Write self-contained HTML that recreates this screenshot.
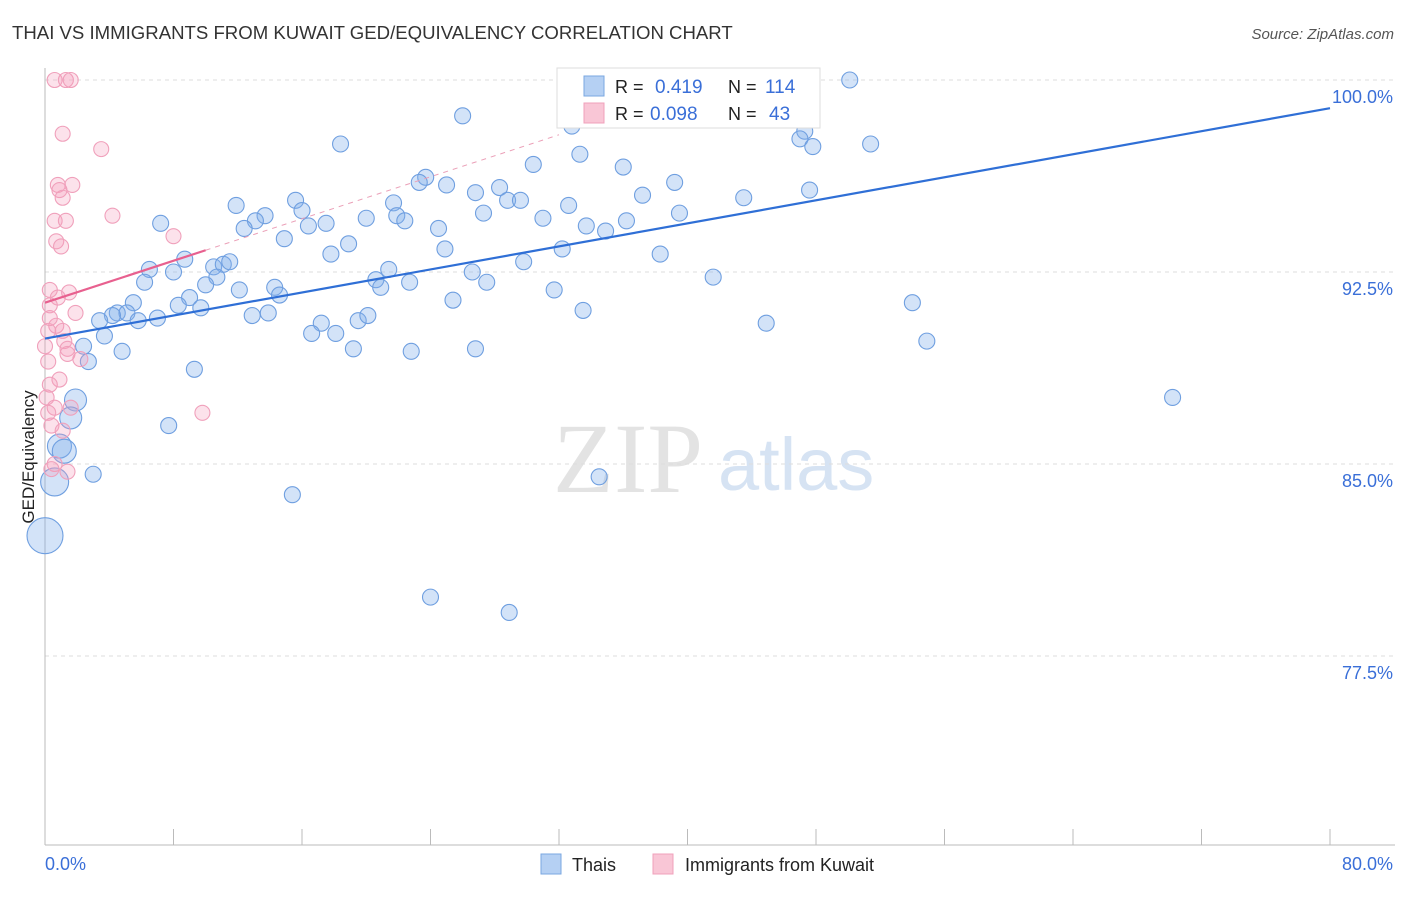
<!DOCTYPE html>
<html><head><meta charset="utf-8"><style>
html,body{margin:0;padding:0;background:#fff;}
body{width:1406px;height:892px;overflow:hidden;font-family:"Liberation Sans",sans-serif;}
</style></head><body>
<svg id="chart" width="1406" height="892" xmlns="http://www.w3.org/2000/svg" font-family="Liberation Sans, sans-serif">
<text x="12" y="39" font-size="18.6" fill="#333">THAI VS IMMIGRANTS FROM KUWAIT GED/EQUIVALENCY CORRELATION CHART</text>
<text x="1394" y="39" font-size="15" fill="#555" font-style="italic" text-anchor="end">Source: ZipAtlas.com</text>
<g>
<text x="553" y="492" font-size="100" font-family="Liberation Serif, serif" fill="#e3e3e3">ZIP</text>
<text x="718" y="490" font-size="74" fill="#d6e3f3">atlas</text>
</g>
<g id="grid"></g>
<g id="axes"></g>
<g id="pts"></g>
<g id="trend"></g>
<text transform="translate(34,457) rotate(-90)" font-size="17" fill="#222" text-anchor="middle">GED/Equivalency</text>
<text x="45" y="870" font-size="18" fill="#3a6fd8">0.0%</text>
<text x="1393" y="870" font-size="18" fill="#3a6fd8" text-anchor="end">80.0%</text>
<g>
<rect x="557" y="68" width="263" height="60" fill="#fff" stroke="#ddd"/>
<rect x="584" y="76" width="20" height="20" fill="#b5d0f3" stroke="#7aa7e0"/>
<rect x="584" y="103" width="20" height="20" fill="#f9c6d6" stroke="#f0a0bb"/>
<text x="615" y="93" font-size="18" fill="#222">R =</text><text x="655" y="93" font-size="19" fill="#3a6fd8">0.419</text>
<text x="728" y="93" font-size="18" fill="#222">N =</text><text x="765" y="93" font-size="19" fill="#3a6fd8">114</text>
<text x="615" y="120" font-size="18" fill="#222">R =</text><text x="650" y="120" font-size="19" fill="#3a6fd8">0.098</text>
<text x="728" y="120" font-size="18" fill="#222">N =</text><text x="769" y="120" font-size="19" fill="#3a6fd8">43</text>
</g>
<g>
<rect x="541" y="854" width="20" height="20" fill="#b5d0f3" stroke="#7aa7e0"/>
<text x="572" y="871" font-size="18" fill="#222">Thais</text>
<rect x="653" y="854" width="20" height="20" fill="#f9c6d6" stroke="#f0a0bb"/>
<text x="685" y="871" font-size="18" fill="#222">Immigrants from Kuwait</text>
</g>
</svg>
<script>
const yTicks=[100,92.5,85,77.5];
const yTickLabels=["100.0%","92.5%","85.0%","77.5%"];
const xTicks=[0,8,16,24,32,40,48,56,64,72,80];
const thaiX=[50.1,26.0,18.4,32.8,47.3,47.0,47.8,51.4,33.3,30.4,36.0,23.7,23.3,25.0,28.3,26.8,28.8,29.6,32.6,37.2,39.2,43.5,47.6,15.6,11.9,16.0,21.7,20.0,21.9,22.4,27.3,31.0,33.7,34.9,36.2,39.5,13.7,13.1,12.4,16.4,17.5,7.2,14.9,18.9,24.5,24.9,32.2,38.3,29.8,8.7,10.5,11.1,11.5,6.5,6.2,8.0,10.7,10.0,17.8,21.4,20.6,20.9,22.7,26.6,27.5,14.3,14.6,12.1,9.0,5.5,8.3,9.7,25.4,31.7,33.5,41.6,54.0,13.9,12.9,17.2,16.6,18.1,19.5,20.1,4.5,5.1,4.2,3.4,5.8,7.0,3.7,2.4,4.8,2.7,9.3,19.2,22.8,26.8,44.9,54.9,1.9,1.6,0.9,1.2,3.0,0.6,7.7,15.4,34.5,70.2,0,24.0,28.9];
const thaiY=[100,98.6,97.5,98.2,98.0,97.7,97.4,97.5,97.1,96.7,96.6,96.2,96.0,95.9,95.8,95.6,95.3,95.3,95.1,95.5,96.0,95.4,95.7,95.3,95.1,94.9,95.2,94.6,94.7,94.5,94.8,94.6,94.3,94.1,94.5,94.8,94.7,94.5,94.2,94.3,94.4,94.4,93.8,93.6,94.2,93.4,93.4,93.2,92.9,93.0,92.7,92.8,92.9,92.6,92.1,92.5,92.3,92.0,93.2,92.6,92.2,91.9,92.1,92.5,92.1,91.9,91.6,91.8,91.5,91.3,91.2,91.1,91.4,91.8,91.0,92.3,91.3,90.9,90.8,90.5,90.1,90.1,90.6,90.8,90.9,90.9,90.8,90.6,90.6,90.7,90.0,89.6,89.4,89.0,88.7,89.5,89.4,89.5,90.5,89.8,87.5,86.8,85.7,85.5,84.6,84.3,86.5,83.8,84.5,87.6,82.2,79.8,79.2];
const thaiBig=[0,0,0,0,0,0,0,0,0,0,0,0,0,0,0,0,0,0,0,0,0,0,0,0,0,0,0,0,0,0,0,0,0,0,0,0,0,0,0,0,0,0,0,0,0,0,0,0,0,0,0,0,0,0,0,0,0,0,0,0,0,0,0,0,0,0,0,0,0,0,0,0,0,0,0,0,0,0,0,0,0,0,0,0,0,0,0,0,0,0,0,0,0,0,0,0,0,0,0,0,3,3,4,4,0,6,0,0,0,0,10,0,0];
const kuwX=[0.6,1.3,1.6,1.1,3.5,0.8,1.7,0.9,1.1,4.2,0.6,1.3,0.7,1.0,8.0,0.3,0.8,1.5,0.3,1.9,0.7,1.1,0.2,1.2,1.4,1.4,2.2,0.2,0.9,0.3,0.1,0.6,1.6,0.2,9.8,0.4,1.1,0.6,0.4,1.4,0.3,0];
const kuwY=[100,100,100,97.9,97.3,95.9,95.9,95.7,95.4,94.7,94.5,94.5,93.7,93.5,93.9,91.8,91.5,91.7,91.2,90.9,90.4,90.2,90.2,89.8,89.5,89.3,89.1,89.0,88.3,88.1,87.6,87.2,87.2,87.0,87.0,86.5,86.3,85.0,84.8,84.7,90.7,89.6];
const thaiTrend=[89.9,0.1125];
const kuwTrend=[91.3,0.205];
const NS="http://www.w3.org/2000/svg";
function X(v){return 45+v*16.0625;}
function Y(v){return 80+(100-v)*25.6;}
function mk(tag,attrs,parent){const e=document.createElementNS(NS,tag);for(const k in attrs)e.setAttribute(k,attrs[k]);parent.appendChild(e);return e;}
const grid=document.getElementById('grid'),axes=document.getElementById('axes'),pts=document.getElementById('pts'),trend=document.getElementById('trend');
yTicks.forEach((t,i)=>{
 const l=mk('line',{x1:45,x2:1395,y1:Y(t),y2:Y(t),stroke:'#ddd','stroke-dasharray':'4,4'},grid);
 
 
 const tx=mk('text',{x:1393,y:Y(t)+23,'font-size':18,fill:'#3a6fd8','text-anchor':'end'},grid);
 tx.textContent=yTickLabels[i];
 
 
});
const xa=mk('line',{x1:45,x2:1395,y1:845,y2:845,stroke:'#bbb'},axes);


const ya=mk('line',{x1:45,x2:45,y1:68,y2:845,stroke:'#bbb'},axes);


xTicks.forEach(t=>{
 const l=mk('line',{x1:X(t),x2:X(t),y1:829,y2:845,stroke:'#bbb'},axes);
 
 
});
thaiX.forEach((v,i)=>{
 const c=mk('circle',{cx:X(v),cy:Y(thaiY[i]),r:8+thaiBig[i],fill:'rgba(130,175,235,0.35)',stroke:'#6f9fe0','stroke-width':1.1},pts);
 
 
});
kuwX.forEach((v,i)=>{
 const c=mk('circle',{cx:X(v),cy:Y(kuwY[i]),r:7.5,fill:'rgba(245,160,190,0.3)',stroke:'#f0a0bb','stroke-width':1.1},pts);
 
 
});
const tl=mk('line',{x1:X(0),y1:Y(thaiTrend[0]),x2:X(80),y2:Y(thaiTrend[0]+thaiTrend[1]*80),stroke:'#2f6fd6','stroke-width':2.2},trend);


const kd=mk('line',{x1:X(10),y1:Y(kuwTrend[0]+kuwTrend[1]*10),x2:X(32),y2:Y(kuwTrend[0]+kuwTrend[1]*32),stroke:'#eba0b8','stroke-width':1,'stroke-dasharray':'5,5'},trend);


const kl=mk('line',{x1:X(0),y1:Y(kuwTrend[0]),x2:X(10),y2:Y(kuwTrend[0]+kuwTrend[1]*10),stroke:'#e8608f','stroke-width':2.2},trend);


</script>
</body></html>
